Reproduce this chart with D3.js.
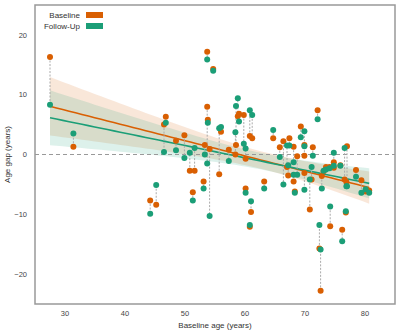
<!DOCTYPE html>
<html lang="en">
<head>
  <meta charset="UTF-8">
  <title>Age gap vs baseline age</title>
  <style>
    body { margin: 0; background: #fff; }
    text { font-family: "Liberation Sans", Arial, sans-serif; }
  </style>
</head>
<body>
  <svg id="svg" width="400" height="334"></svg>

  <script src="https://d3js.org/d3.v7.min.js"></script>
  <script>
    // ------ DATA -----------------------------------------------
    // baseline age of each subject
    const ages = [27.5, 31.4, 44.2, 45.2, 46.8, 46.5, 48.5, 49.9, 50.8, 51.6,
      51.3, 53.1, 53.3, 53.7, 53.7, 53.8, 54.1, 54.7, 55.7, 56.0,
      57.3, 58.4, 58.5, 58.8, 59.0, 59.8, 60.1, 60.1, 60.8, 61.2,
      61.0, 60.8, 63.2, 64.7, 65.8, 66.4, 67.0, 67.4, 67.2, 68.1,
      68.1, 68.3, 68.7, 69.3, 69.9, 69.9, 69.9, 70.8, 71.1, 71.3,
      72.1, 72.4, 72.6, 72.8, 73.1, 73.5, 74.1, 74.2, 74.8, 74.8,
      75.9, 76.2, 76.8, 76.6, 77.0, 76.9, 78.5, 79.4, 80.1, 80.7]
    // age gap at baseline
    const gapBaseline = [16.3, 1.3, -7.7, -8.4, 6.3, 5.0, 2.3, 3.2, -2.7, -2.7,
      -6.3, -4.5, 1.6, 17.2, 8.0, 5.8, 0.9, 14.3, -3.3, 3.8,
      0.8, 0.0, 1.6, 6.4, 6.8, 6.6, -0.7, -5.7, 3.1, 2.7,
      -9.6, -12.1, -4.5, 2.7, 1.2, 2.2, -2.1, 2.7, -3.5, 1.3,
      -4.5, -6.2, -0.3, 4.7, 1.6, -0.2, -3.1, -9.2, -4.2, 1.2,
      7.4, -15.7, -22.8, -3.6, -2.8, -2.1, -2.1, -12.0, -1.3, -2.2,
      -1.8, -12.6, -9.7, -4.2, 1.4, -4.6, -2.6, -4.3, -6.2, -6.0]
    // age gap at follow-up
    const gapFollowUp = [8.3, 3.5, -9.9, -5.1, 5.3, 0.4, 0.7, -0.6, 0.3, 1.1,
      -7.7, -5.7, 0.0, 15.9, -1.5, 5.3, -10.3, 14.0, 4.4, 4.6,
      -1.1, 3.7, 8.1, 9.4, 5.5, 1.8, 1.0, -6.4, 7.4, 6.6,
      -7.8, -11.8, -5.7, 4.1, -0.4, -5.0, 1.5, 1.5, -1.8, -1.3,
      -3.4, -6.4, -3.4, 2.9, 3.9, 1.4, -5.9, -4.2, -2.1, -0.2,
      5.9, -11.8, -15.9, -5.7, -2.7, -2.5, -2.3, -8.7, 0.3, -1.9,
      -1.9, -14.5, -9.5, 1.1, -5.3, -5.3, -3.7, -6.4, -5.8, -6.4]

    const xTicks = [30, 40, 50, 60, 70, 80]
    const yTicks = [-20, -10, 0, 10, 20]
    const seriesNames = ['Baseline', 'Follow-Up']
    const seriesColors = ['#d95f02', '#1b9e77']

    // CONSTANTS
    const margin = { top: 5, right: 5, bottom: 30, left: 35 }
    const width = 400 - (margin.left + margin.right)
    const height = 334 - (margin.top + margin.bottom)

    const svg = d3.select('#svg')
    const g = svg.append('g')
      .attr('transform', `translate(${margin.left}, ${margin.top})`)

    const x = d3.scaleLinear().domain([25, 85]).range([0, width])
    const y = d3.scaleLinear().domain([-25, 25]).range([height, 0])

    // linear fit + 95% confidence band of the mean
    function fit(xs, ys) {
      const n = xs.length
      const mx = d3.mean(xs)
      const my = d3.mean(ys)
      let sxx = 0, sxy = 0
      xs.forEach((v, i) => { sxx += (v - mx) ** 2; sxy += (v - mx) * (ys[i] - my) })
      const b = sxy / sxx
      const a = my - b * mx
      let sse = 0
      xs.forEach((v, i) => { sse += (ys[i] - (a + b * v)) ** 2 })
      const s = Math.sqrt(sse / (n - 2))
      const t = 1.995
      const grid = d3.range(0, 51).map(k => d3.min(xs) + k * (d3.max(xs) - d3.min(xs)) / 50)
      return grid.map(v => {
        const yhat = a + b * v
        const se = s * Math.sqrt(1 / n + (v - mx) ** 2 / sxx)
        return { x: v, y: yhat, lo: yhat - t * se, hi: yhat + t * se }
      })
    }

    const fits = [fit(ages, gapBaseline), fit(ages, gapFollowUp)]

    // bands
    const area = d3.area()
      .x(d => x(d.x))
      .y0(d => y(d.lo))
      .y1(d => y(d.hi))

    fits.forEach((f, i) => {
      g.append('path')
        .datum(f)
        .attr('d', area)
        .attr('fill', seriesColors[i])
        .attr('fill-opacity', 0.15)
    })

    // zero line
    g.append('line')
      .attr('x1', 0).attr('x2', width)
      .attr('y1', y(0)).attr('y2', y(0))
      .attr('stroke', '#999')
      .attr('stroke-width', 1.2)
      .attr('stroke-dasharray', '4,3')

    // fit lines
    const line = d3.line().x(d => x(d.x)).y(d => y(d.y))
    fits.forEach((f, i) => {
      g.append('path')
        .datum(f)
        .attr('d', line)
        .attr('fill', 'none')
        .attr('stroke', seriesColors[i])
        .attr('stroke-width', 1.6)
    })

    // pair connectors
    g.selectAll('.pair')
      .data(ages)
      .join('line')
      .attr('class', 'pair')
      .attr('x1', d => x(d)).attr('x2', d => x(d))
      .attr('y1', (d, i) => y(gapBaseline[i]))
      .attr('y2', (d, i) => y(gapFollowUp[i]))
      .attr('stroke', '#aaa')
      .attr('stroke-width', 1)
      .attr('stroke-dasharray', '2,1.5')

    // points
    const series = [gapBaseline, gapFollowUp]
    series.forEach((vals, k) => {
      g.selectAll('.pt' + k)
        .data(vals)
        .join('circle')
        .attr('class', 'pt' + k)
        .attr('cx', (d, i) => x(ages[i]))
        .attr('cy', d => y(d))
        .attr('r', 3)
        .attr('fill', seriesColors[k])
    })

    // frame
    g.append('rect')
      .attr('width', width).attr('height', height)
      .attr('fill', 'none')
      .attr('stroke', '#999')
      .attr('stroke-width', 1.5)

    // tick labels
    g.selectAll('.xt')
      .data(xTicks)
      .join('text')
      .attr('class', 'xt')
      .attr('x', d => x(d))
      .attr('y', height + 12)
      .attr('text-anchor', 'middle')
      .attr('font-size', 7.5)
      .attr('fill', '#444')
      .text(d => d)

    g.selectAll('.yt')
      .data(yTicks)
      .join('text')
      .attr('class', 'yt')
      .attr('x', -8)
      .attr('y', d => y(d) + 2.6)
      .attr('text-anchor', 'end')
      .attr('font-size', 7.5)
      .attr('fill', '#444')
      .text(d => d < 0 ? '\u2212' + Math.abs(d) : String(d))

    // axis titles
    g.append('text')
      .attr('x', width / 2)
      .attr('y', height + 24)
      .attr('text-anchor', 'middle')
      .attr('font-size', 8)
      .attr('fill', '#333')
      .text('Baseline age (years)')

    svg.append('text')
      .attr('transform', `translate(10, ${margin.top + height / 2}) rotate(-90)`)
      .attr('text-anchor', 'middle')
      .attr('font-size', 8)
      .attr('fill', '#333')
      .text('Age gap (years)')

    // legend
    const legend = svg.append('g').attr('transform', 'translate(80, 15)')
    seriesNames.forEach((name, i) => {
      legend.append('text')
        .attr('x', 0)
        .attr('y', i * 11 + 3)
        .attr('text-anchor', 'end')
        .attr('font-size', 8)
        .attr('fill', '#333')
        .text(name)
      legend.append('rect')
        .attr('x', 6)
        .attr('y', i * 11 - 3)
        .attr('width', 17)
        .attr('height', 6)
        .attr('fill', seriesColors[i])
    })
  </script>
</body>
</html>
